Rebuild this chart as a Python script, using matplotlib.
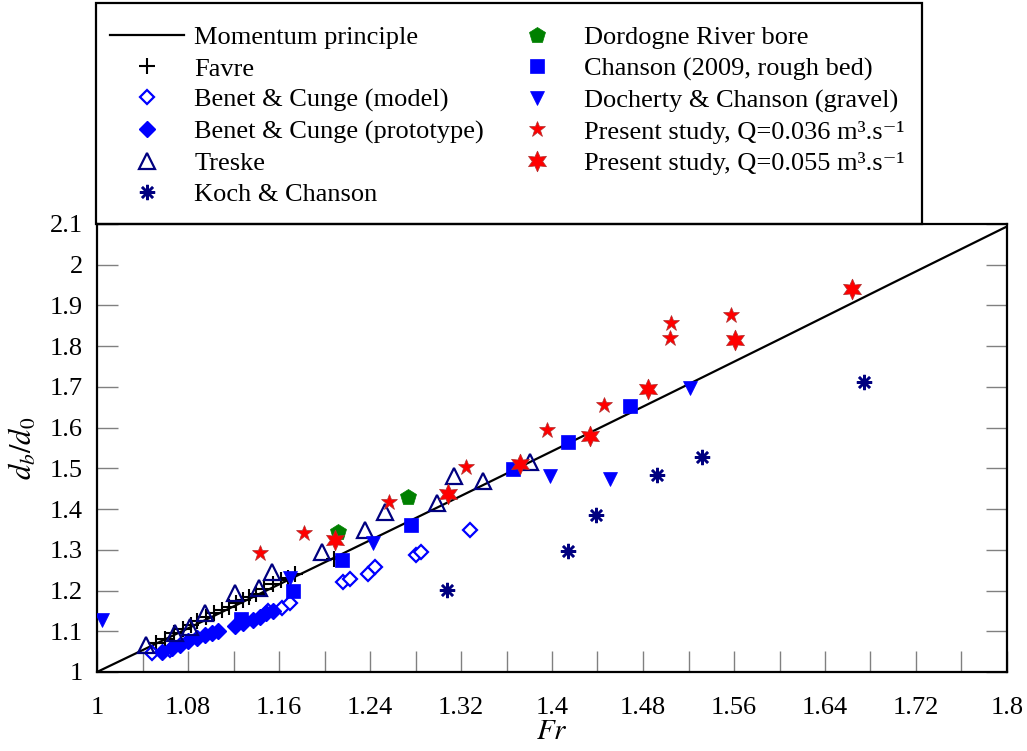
import numpy as np
import matplotlib
matplotlib.use("Agg")
import matplotlib.pyplot as plt
from matplotlib.patches import Rectangle

plt.rcParams['font.family'] = ['Liberation Serif', 'DejaVu Serif']
plt.rcParams['mathtext.fontset'] = 'stix'

# momentum principle curve
fr_line = [1.0, 1.1, 1.2, 1.3, 1.4, 1.5, 1.6, 1.7, 1.8]
db_line = [1.0, 1.134, 1.269, 1.405, 1.542, 1.679, 1.817, 1.956, 2.094]

favre_x = [1.052, 1.060, 1.068, 1.076, 1.083, 1.088, 1.096, 1.103, 1.110, 1.116,
           1.122, 1.128, 1.134, 1.140, 1.147, 1.155, 1.162, 1.168, 1.174, 1.208]
favre_y = [1.070, 1.080, 1.095, 1.105, 1.115, 1.125, 1.135, 1.145, 1.152, 1.160,
           1.170, 1.176, 1.185, 1.192, 1.205, 1.215, 1.225, 1.232, 1.240, 1.278]

bc_model_x = [1.048, 1.064, 1.130, 1.150, 1.163, 1.170, 1.216, 1.222, 1.238, 1.244,
              1.280, 1.285, 1.328]
bc_model_y = [1.047, 1.054, 1.125, 1.150, 1.157, 1.169, 1.221, 1.228, 1.241, 1.258,
              1.287, 1.295, 1.349]

bc_proto_x = [1.057, 1.066, 1.073, 1.080, 1.088, 1.095, 1.101, 1.106, 1.121, 1.128,
              1.137, 1.143, 1.149, 1.155]
bc_proto_y = [1.049, 1.058, 1.066, 1.075, 1.083, 1.090, 1.095, 1.101, 1.112, 1.120,
              1.128, 1.136, 1.145, 1.150]

treske_x = [1.043, 1.069, 1.082, 1.095, 1.121, 1.142, 1.154, 1.198, 1.236, 1.253,
            1.299, 1.314, 1.339, 1.381]
treske_y = [1.066, 1.096, 1.110, 1.145, 1.194, 1.206, 1.246, 1.295, 1.349, 1.393,
            1.415, 1.481, 1.469, 1.516]

koch_x = [1.308, 1.414, 1.439, 1.492, 1.532, 1.674]
koch_y = [1.201, 1.297, 1.385, 1.484, 1.528, 1.712]

dordogne_x = [1.212, 1.273]
dordogne_y = [1.344, 1.430]

chanson_x = [1.127, 1.172, 1.215, 1.276, 1.366, 1.414, 1.469]
chanson_y = [1.130, 1.199, 1.275, 1.361, 1.498, 1.565, 1.653]

docherty_x = [1.004, 1.170, 1.243, 1.398, 1.451, 1.521]
docherty_y = [1.128, 1.231, 1.317, 1.481, 1.474, 1.697]

q036_x = [1.143, 1.182, 1.257, 1.324, 1.396, 1.446, 1.504, 1.505, 1.557]
q036_y = [1.292, 1.341, 1.417, 1.503, 1.594, 1.656, 1.820, 1.857, 1.877]

q055_x = [1.209, 1.309, 1.372, 1.433, 1.484, 1.561, 1.664]
q055_y = [1.324, 1.437, 1.511, 1.579, 1.695, 1.815, 1.940]

x_ticks = [1, 1.08, 1.16, 1.24, 1.32, 1.4, 1.48, 1.56, 1.64, 1.72, 1.8]
x_minor = [1.04, 1.12, 1.2, 1.28, 1.36, 1.44, 1.52, 1.6, 1.68, 1.76]
y_ticks = [1, 1.1, 1.2, 1.3, 1.4, 1.5, 1.6, 1.7, 1.8, 1.9, 2, 2.1]

fig = plt.figure(figsize=(10.27, 7.51), dpi=100)
ax = fig.add_axes([97/1027, 1-672/751, 910/1027, 448/751])

ax.plot(fr_line, db_line, color='black', lw=1.6, label='Momentum principle', zorder=2)
ax.plot(favre_x, favre_y, ls='none', marker='+', ms=11, mew=1.5, color='black', label='Favre', zorder=3)
ax.plot(bc_model_x, bc_model_y, ls='none', marker='D', ms=7.5, mew=1.6, mfc='white', mec='#0000ff',
        label='Benet & Cunge (model)', zorder=3)
ax.plot(bc_proto_x, bc_proto_y, ls='none', marker='D', ms=8.5, mew=1, color='#0000ff',
        label='Benet & Cunge (prototype)', zorder=3)
ax.plot(treske_x, treske_y, ls='none', marker='^', ms=11, mew=1.6, mfc='none', mec='#000080',
        label='Treske', zorder=3)
ax.plot(koch_x, koch_y, ls='none', marker=(8, 2, 0), ms=11, mew=1.8, color='#000080',
        label='Koch & Chanson', zorder=3)
ax.plot(dordogne_x, dordogne_y, ls='none', marker='p', ms=12, mew=0.5, color='#008000',
        label='Dordogne River bore', zorder=3)
ax.plot(chanson_x, chanson_y, ls='none', marker='s', ms=10, mew=0.5, color='#0000ff',
        label='Chanson (2009, rough bed)', zorder=3)
ax.plot(docherty_x, docherty_y, ls='none', marker='v', ms=10, mew=0.5, color='#0000ff',
        label='Docherty & Chanson (gravel)', zorder=3)
ax.plot(q036_x, q036_y, ls='none', marker='*', ms=12, mew=0.5, mfc='#ff0000', mec='#b03030',
        label='Present study, Q=0.036 m³.s⁻¹', zorder=3)
ax.plot(q055_x, q055_y, ls='none', marker=(6, 1, 0), ms=15, mew=0.5, mfc='#ff0000', mec='#b03030',
        label='Present study, Q=0.055 m³.s⁻¹', zorder=3)

ax.set_xlim(1, 1.8)
ax.set_ylim(1, 2.1)
ax.set_xticks(x_ticks)
ax.set_xticklabels([f'{t:g}' for t in x_ticks])
ax.set_xticks(x_minor, minor=True)
ax.set_yticks(y_ticks)
ax.set_yticklabels([f'{t:g}' for t in y_ticks])
ax.tick_params(which='both', direction='in', length=15, width=1, color='#808080',
               labelsize=19, right=True, top=False)
ax.tick_params(axis='x', which='major', pad=18)
ax.tick_params(axis='y', which='major', pad=10)
for s in ax.spines.values():
    s.set_linewidth(1.6)

ax.set_xlabel(r'$Fr$', fontsize=21, labelpad=0)
ax.set_ylabel(r'$d_b/d_0$', fontsize=22, labelpad=8)

fig.patches.append(Rectangle((96/1027, 1-224/751), 826/1027, 221/751, transform=fig.transFigure,
                             fill=False, lw=1.6, edgecolor='black'))
fig.legend(loc='upper left', bbox_to_anchor=(110/1027, 1-26/751), ncol=2, frameon=False,
           fontsize=19, borderpad=0, borderaxespad=0, handlelength=2.8, handletextpad=0.4,
           labelspacing=0.29, columnspacing=0.6, numpoints=1)

fig.savefig('out.png', dpi=100)
